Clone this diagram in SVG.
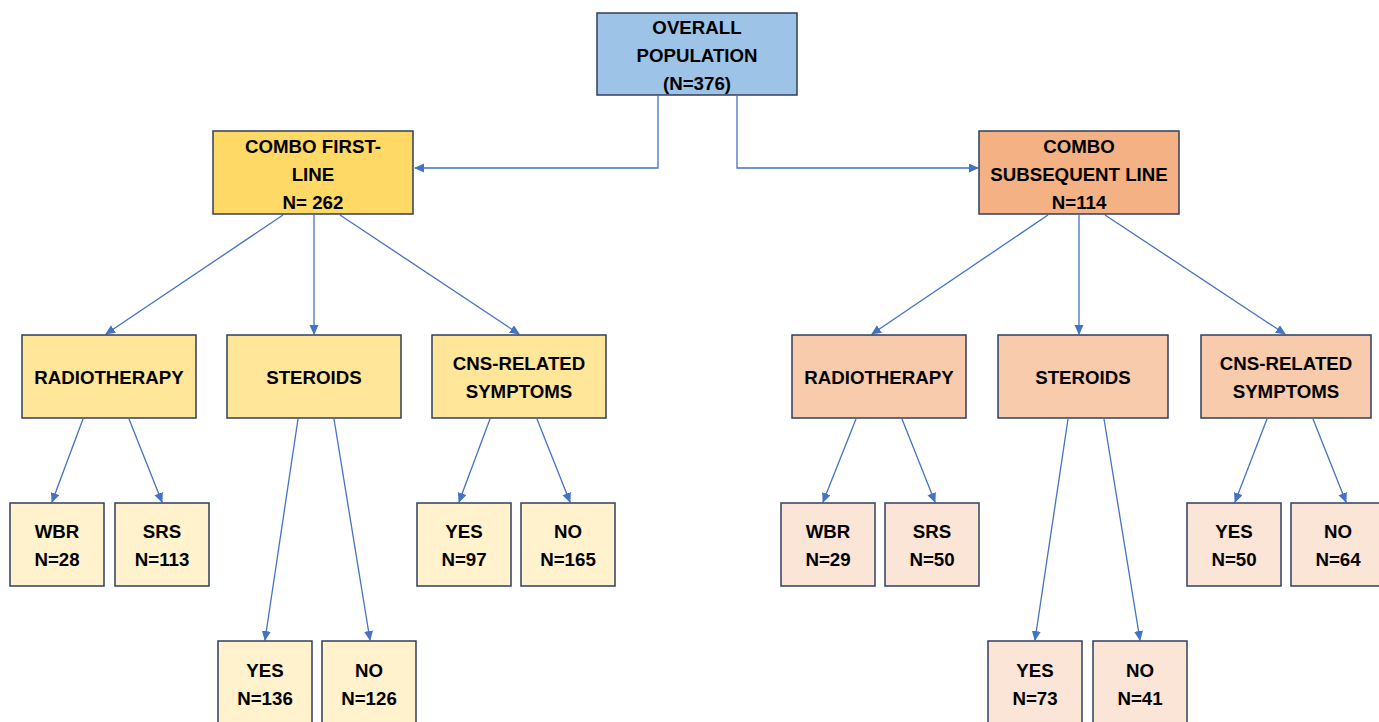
<svg xmlns="http://www.w3.org/2000/svg" width="1379" height="722" viewBox="0 0 1379 722">
<defs>
<marker id="ah" markerWidth="10" markerHeight="10" refX="9" refY="4.5" orient="auto" markerUnits="userSpaceOnUse">
<path d="M0,0 L10,4.5 L0,9 Z" fill="#4472C4"/>
</marker>
<style>
rect{stroke:#2F3E5F;stroke-width:1.5}
text{font-family:"Liberation Sans",Arial,sans-serif;font-weight:bold;font-size:18.7px;fill:#000;text-anchor:middle;dominant-baseline:central}
.c line,.c path{stroke:#4472C4;stroke-width:1.3;fill:none;marker-end:url(#ah)}
.top{fill:#9DC3E6}.l1{fill:#FFD966}.l2{fill:#FFE699}.l3{fill:#FFF2CC}
.r1{fill:#F4B183}.r2{fill:#F8CBAD}.r3{fill:#FBE5D6}
</style>
</defs>
<rect width="1379" height="722" fill="#fff" style="stroke:none"/>
<g class="c" id="connectors">
<path d="M658,96 V168 H415"/>
<path d="M737,96 V168 H978"/>
<line x1="283" y1="215" x2="106" y2="334"/>
<line x1="314" y1="215" x2="314" y2="334"/>
<line x1="340" y1="215" x2="519" y2="334"/>
<line x1="1048" y1="215" x2="872" y2="334"/>
<line x1="1079" y1="215" x2="1079" y2="334"/>
<line x1="1105" y1="215" x2="1285" y2="334"/>
<line x1="83" y1="419" x2="52" y2="502"/>
<line x1="129" y1="419" x2="162" y2="502"/>
<line x1="298" y1="419" x2="265" y2="640"/>
<line x1="334" y1="419" x2="370" y2="640"/>
<line x1="490" y1="419" x2="459" y2="502"/>
<line x1="537" y1="419" x2="570" y2="502"/>
<line x1="856" y1="419" x2="823" y2="502"/>
<line x1="902" y1="419" x2="935" y2="502"/>
<line x1="1068" y1="419" x2="1035" y2="640"/>
<line x1="1104" y1="419" x2="1140" y2="640"/>
<line x1="1267" y1="419" x2="1235" y2="502"/>
<line x1="1313" y1="419" x2="1346" y2="502"/>
</g>
<g id="overall"><rect class="top" x="597" y="13" width="200" height="82"/><text x="697" y="27">OVERALL</text><text x="697" y="55">POPULATION</text><text x="697" y="83">(N=376)</text></g>
<g id="first"><rect class="l1" x="213" y="131" width="200" height="83"/><text x="313" y="146">COMBO FIRST-</text><text x="313" y="174">LINE</text><text x="313" y="202">N= 262</text></g>
<g id="subsequent"><rect class="r1" x="979" y="131" width="200" height="83"/><text x="1079" y="146">COMBO</text><text x="1079" y="174">SUBSEQUENT LINE</text><text x="1079" y="202">N=114</text></g>
<g id="l-radio"><rect class="l2" x="22" y="335" width="174" height="83"/><text x="109" y="377">RADIOTHERAPY</text></g>
<g id="l-ster"><rect class="l2" x="227" y="335" width="174" height="83"/><text x="314" y="377">STEROIDS</text></g>
<g id="l-cns"><rect class="l2" x="432" y="335" width="174" height="83"/><text x="519" y="363">CNS-RELATED</text><text x="519" y="391">SYMPTOMS</text></g>
<g id="r-radio"><rect class="r2" x="792" y="335" width="174" height="83"/><text x="879" y="377">RADIOTHERAPY</text></g>
<g id="r-ster"><rect class="r2" x="998" y="335" width="170" height="83"/><text x="1083" y="377">STEROIDS</text></g>
<g id="r-cns"><rect class="r2" x="1201" y="335" width="170" height="83"/><text x="1286" y="363">CNS-RELATED</text><text x="1286" y="391">SYMPTOMS</text></g>
<g id="l-wbr"><rect class="l3" x="10" y="503" width="94" height="83"/><text x="57" y="531">WBR</text><text x="57" y="559">N=28</text></g>
<g id="l-srs"><rect class="l3" x="115" y="503" width="94" height="83"/><text x="162" y="531">SRS</text><text x="162" y="559">N=113</text></g>
<g id="l-cyes"><rect class="l3" x="417" y="503" width="94" height="83"/><text x="464" y="531">YES</text><text x="464" y="559">N=97</text></g>
<g id="l-cno"><rect class="l3" x="521" y="503" width="94" height="83"/><text x="568" y="531">NO</text><text x="568" y="559">N=165</text></g>
<g id="l-syes"><rect class="l3" x="218" y="641" width="94" height="83"/><text x="265" y="670">YES</text><text x="265" y="698">N=136</text></g>
<g id="l-sno"><rect class="l3" x="322" y="641" width="94" height="83"/><text x="369" y="670">NO</text><text x="369" y="698">N=126</text></g>
<g id="r-wbr"><rect class="r3" x="781" y="503" width="94" height="83"/><text x="828" y="531">WBR</text><text x="828" y="559">N=29</text></g>
<g id="r-srs"><rect class="r3" x="885" y="503" width="94" height="83"/><text x="932" y="531">SRS</text><text x="932" y="559">N=50</text></g>
<g id="r-cyes"><rect class="r3" x="1187" y="503" width="94" height="83"/><text x="1234" y="531">YES</text><text x="1234" y="559">N=50</text></g>
<g id="r-cno"><rect class="r3" x="1291" y="503" width="94" height="83"/><text x="1338" y="531">NO</text><text x="1338" y="559">N=64</text></g>
<g id="r-syes"><rect class="r3" x="988" y="641" width="94" height="83"/><text x="1035" y="670">YES</text><text x="1035" y="698">N=73</text></g>
<g id="r-sno"><rect class="r3" x="1093" y="641" width="94" height="83"/><text x="1140" y="670">NO</text><text x="1140" y="698">N=41</text></g>
</svg>
